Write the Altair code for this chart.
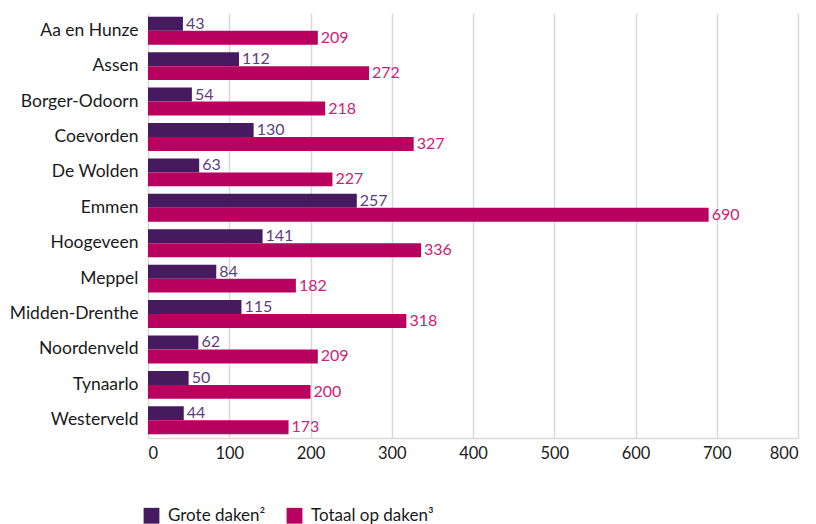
import altair as alt
import pandas as pd

gemeenten = ["Aa en Hunze", "Assen", "Borger-Odoorn", "Coevorden", "De Wolden", "Emmen",
             "Hoogeveen", "Meppel", "Midden-Drenthe", "Noordenveld", "Tynaarlo", "Westerveld"]
grote_daken = [43, 112, 54, 130, 63, 257, 141, 84, 115, 62, 50, 44]
totaal_op_daken = [209, 272, 218, 327, 227, 690, 336, 182, 318, 209, 200, 173]
series = ["Grote daken²", "Totaal op daken³"]
bar_colors = ["#461a5e", "#b8005e"]
text_colors = ["#5e3d7e", "#cc2277"]

rows = []
for g, a, b in zip(gemeenten, grote_daken, totaal_op_daken):
    rows.append({"gemeente": g, "serie": series[0], "waarde": a, "tc": text_colors[0]})
    rows.append({"gemeente": g, "serie": series[1], "waarde": b, "tc": text_colors[1]})
df = pd.DataFrame(rows)

FONT = "Lato"

base = alt.Chart(df).encode(
    y=alt.Y("gemeente:N", sort=gemeenten, title=None,
            scale=alt.Scale(paddingInner=0.21, paddingOuter=0.105),
            axis=alt.Axis(labelFontSize=17.5, labelColor="#1a1a1a", labelFont=FONT,
                          ticks=False, domain=False, labelPadding=10)),
    yOffset=alt.YOffset("serie:N", sort=series, scale=alt.Scale(paddingInner=0, paddingOuter=0)),
)

bars = base.mark_bar().encode(
    x=alt.X("waarde:Q", title=None,
            scale=alt.Scale(domain=[0, 800], nice=False),
            axis=alt.Axis(values=[0, 100, 200, 300, 400, 500, 600, 700, 800],
                          labelFontSize=16.5, labelColor="#1a1a1a", labelFont=FONT,
                          grid=True, gridColor="#d9d9d9", gridWidth=1.5,
                          domain=True, domainColor="#d9d9d9", domainWidth=1.5,
                          ticks=False, labelPadding=7)),
    color=alt.Color("serie:N", sort=series,
                    scale=alt.Scale(domain=series, range=bar_colors),
                    legend=alt.Legend(title=None, orient="none", direction="horizontal",
                                      legendX=-5, legendY=494,
                                      symbolType="square", symbolSize=250,
                                      symbolStrokeWidth=0, labelFontSize=17,
                                      labelFont=FONT, labelColor="#1a1a1a",
                                      columnPadding=20, labelOffset=8)),
)

labels = base.mark_text(align="left", baseline="middle", dx=3, fontSize=16, font=FONT).encode(
    x=alt.X("waarde:Q"),
    text=alt.Text("waarde:Q"),
    color=alt.Color("tc:N", scale=None),
)

chart = alt.layer(bars, labels).properties(
    width=650, height=425,
    autosize=alt.AutoSizeParams(type="none"),
    padding={"left": 140, "top": 5, "right": 10, "bottom": 86},
).configure_view(stroke=None)

chart.save("out.html", embed_options={"renderer": "svg", "actions": False})
